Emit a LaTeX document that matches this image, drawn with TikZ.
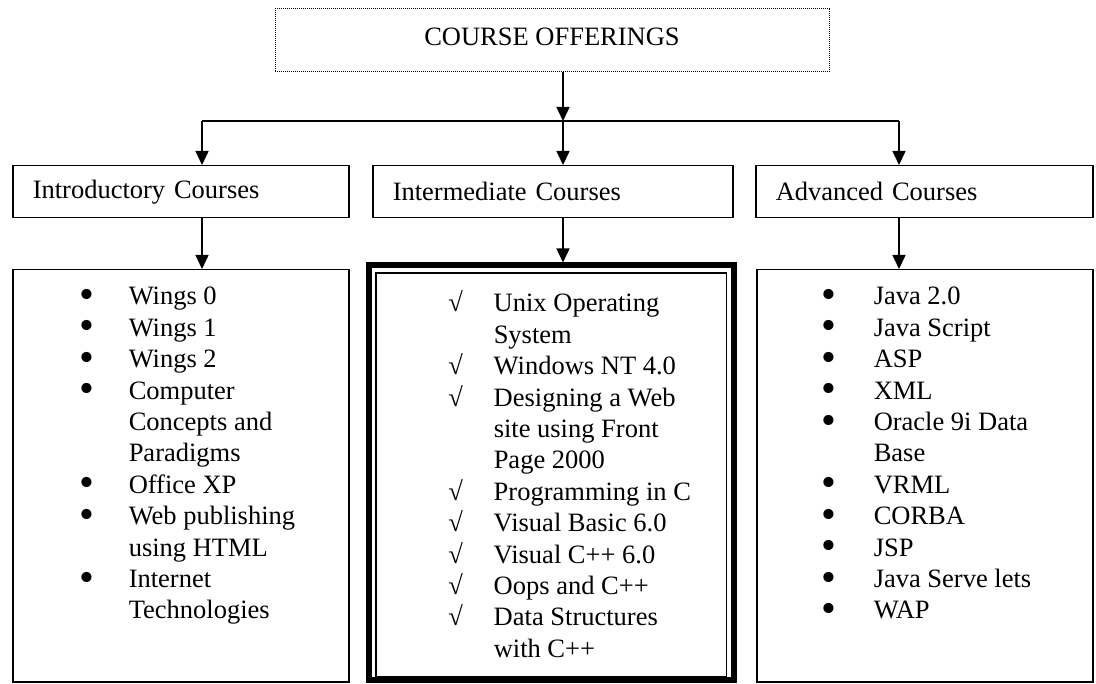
\documentclass[tikz,border=0pt]{standalone}
\usepackage{fontspec}
\setmainfont{Liberation Serif}
\usetikzlibrary{arrows.meta}
\newcommand{\bul}{\makebox[0pt][c]{\raisebox{-0.13em}{\scalebox{1.6}{\textbullet}}}}
\newcommand{\chk}{\makebox[0pt][c]{√}}

\tikzset{
	arr/.style={-{Triangle[width=13pt,length=14pt]}},
	course/.style={draw, anchor=north west, minimum height=52pt, inner xsep=20pt, text width=#1, align=left},
	listbox/.style={draw, anchor=north west, minimum width=336pt, minimum height=412pt},
	items/.style={anchor=base west, inner sep=0pt}
}

\begin{document}
\begin{tikzpicture}[x=1pt, y=-1pt, line width=1.5pt, font=\fontsize{26.5}{31.4}\selectfont]
			%%%%% START %%%%%
			\useasboundingbox (0,0) rectangle (1096,684);
			
			\node[draw, densely dotted, line width=1pt, minimum width=554pt, minimum height=63pt, text depth=8pt] (offer) at (552, 40.5) {COURSE OFFERINGS};
			
			\node[course=296pt] (intro) at (12,165) {Introductory Courses};
			\node[course=320pt] (inter) at (372,165) {Intermediate Courses};
			\node[course=297pt] (adv) at (755,165) {Advanced Courses};
			
			\node[listbox] (introlist) at (12,269) {};
			\node[draw, line width=6pt, anchor=north west, minimum width=364.5pt, minimum height=414.5pt] (interlist) at (366,262.5) {};
			\draw ([xshift=10pt,yshift=-10.5pt]interlist.north west) rectangle ([xshift=-10pt,yshift=6.5pt]interlist.south east);
			\node[listbox] (advlist) at (756,269) {};
			
			\coordinate (jL) at (202,121);
			\coordinate (jC) at (563,121);
			\coordinate (jR) at (899,121);
			
			\draw[arr] (offer.south -| jC) -- (jC);
			\draw (jL) -- (jR);
			\draw[arr] (jL) -- (jL |- intro.north);
			\draw[arr] (jC) -- (jC |- inter.north);
			\draw[arr] (jR) -- (jR |- adv.north);
			
			\draw[arr] (intro.south -| jL) -- (jL |- introlist.north);
			\draw[arr] (inter.south -| jC) -- (jC |- interlist.north);
			\draw[arr] (adv.south -| jR) -- (jR |- advlist.north);
			
			\node[items] (introitems) at (86,305) {\begin{tabular}[t]{@{}p{42pt}@{}l@{}}
				\bul & Wings 0\\
				\bul & Wings 1\\
				\bul & Wings 2\\
				\bul & Computer\\
				 & Concepts and\\
				 & Paradigms\\
				\bul & Office XP\\
				\bul & Web publishing\\
				 & using HTML\\
				\bul & Internet\\
				 & Technologies
			\end{tabular}};
			
			\node[items] (interitems) at (455,312) {\begin{tabular}[t]{@{}p{38pt}@{}l@{}}
				\chk & Unix Operating\\
				 & System\\
				\chk & Windows NT 4.0\\
				\chk & Designing a Web\\
				 & site using Front\\
				 & Page 2000\\
				\chk & Programming in C\\
				\chk & Visual Basic 6.0\\
				\chk & Visual C++ 6.0\\
				\chk & Oops and C++\\
				\chk & Data Structures\\
				 & with C++
			\end{tabular}};
			
			\node[items] (advitems) at (828,305) {\begin{tabular}[t]{@{}p{45pt}@{}l@{}}
				\bul & Java 2.0\\
				\bul & Java Script\\
				\bul & ASP\\
				\bul & XML\\
				\bul & Oracle 9i Data\\
				 & Base\\
				\bul & VRML\\
				\bul & CORBA\\
				\bul & JSP\\
				\bul & Java Serve lets\\
				\bul & WAP
			\end{tabular}};
			
			%%%%% END %%%%%
\end{tikzpicture}
\end{document}
